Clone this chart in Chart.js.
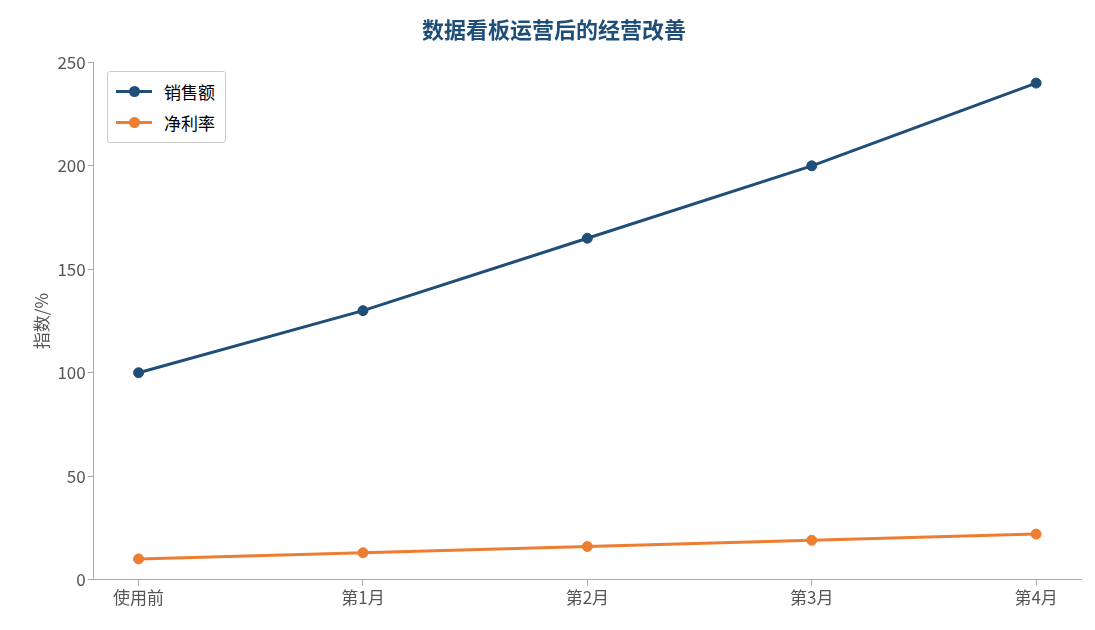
<!DOCTYPE html>
<html>
<head>
<meta charset="utf-8">
<script src="https://cdn.jsdelivr.net/npm/chart.js@4"></script>
<style>
  html, body { margin: 0; padding: 0; background: #fff; }
  #wrap { position: relative; width: 1095px; height: 630px; }
  #legend {
    position: absolute; left: 107px; top: 71px;
    border: 1px solid #ccc; border-radius: 3px; background: #fff;
    padding: 4px 10px 4px 8px;
    font-family: "Noto Sans CJK SC", sans-serif; font-size: 17px; color: #000;
  }
  .item { display: flex; align-items: center; height: 31px; }
  .sw { position: relative; width: 36px; height: 3px; margin-right: 12px; }
  .sw span { position: absolute; left: 13px; top: -4px; width: 11px; height: 11px; border-radius: 50%; }
</style>
</head>
<body>
<div id="wrap">
  <canvas id="c" width="1095" height="630"></canvas>
  <div id="legend"></div>
</div>
<script>
const categories = ['使用前', '第1月', '第2月', '第3月', '第4月'];
const sales = [100, 130, 165, 200, 240];
const netProfit = [10, 13, 16, 19, 22];
const seriesNames = ['销售额', '净利率'];
const colors = ['#1f4e79', '#ed7d31'];

const font = "'Noto Sans CJK SC', sans-serif";
const toPoints = arr => arr.map((v, i) => ({x: i, y: v}));

const chart = new Chart(document.getElementById('c'), {
  type: 'line',
  data: {
    datasets: [sales, netProfit].map((arr, i) => ({
      label: seriesNames[i],
      data: toPoints(arr),
      borderColor: colors[i],
      backgroundColor: colors[i],
      borderWidth: 3,
      pointRadius: 5,
      pointBorderWidth: 1,
      pointHoverRadius: 5
    }))
  },
  options: {
    responsive: false,
    animation: false,
    layout: {padding: {left: 27, right: 14, top: 6, bottom: 20}},
    plugins: {
      legend: {display: false},
      tooltip: {enabled: false},
      title: {
        display: true,
        text: '数据看板运营后的经营改善',
        color: '#1f4e79',
        font: {family: font, size: 22, weight: 'bold'},
        padding: {top: 10, bottom: 20}
      }
    },
    scales: {
      x: {
        type: 'linear',
        min: -0.2, max: 4.2,
        afterBuildTicks: s => { s.ticks = categories.map((c, i) => ({value: i})); },
        ticks: {
          callback: v => categories[v],
          color: '#555', font: {family: font, size: 17}, padding: 2
        },
        grid: {display: true, drawOnChartArea: false, drawTicks: true, tickLength: 6, tickColor: '#aaa'},
        border: {color: '#aaa'}
      },
      y: {
        min: 0, max: 250,
        ticks: {stepSize: 50, color: '#555', font: {family: font, size: 17}, padding: 2},
        grid: {display: true, drawOnChartArea: false, drawTicks: true, tickLength: 6, tickColor: '#aaa'},
        border: {color: '#aaa'},
        title: {display: true, text: '指数/%', color: '#555', font: {family: font, size: 17}, padding: 4}
      }
    }
  }
});

const legend = document.getElementById('legend');
chart.data.datasets.forEach(ds => {
  const d = document.createElement('div');
  d.className = 'item';
  d.innerHTML = `<div class="sw" style="background:${ds.borderColor}"><span style="background:${ds.borderColor}"></span></div>${ds.label}`;
  legend.appendChild(d);
});
</script>
</body>
</html>
